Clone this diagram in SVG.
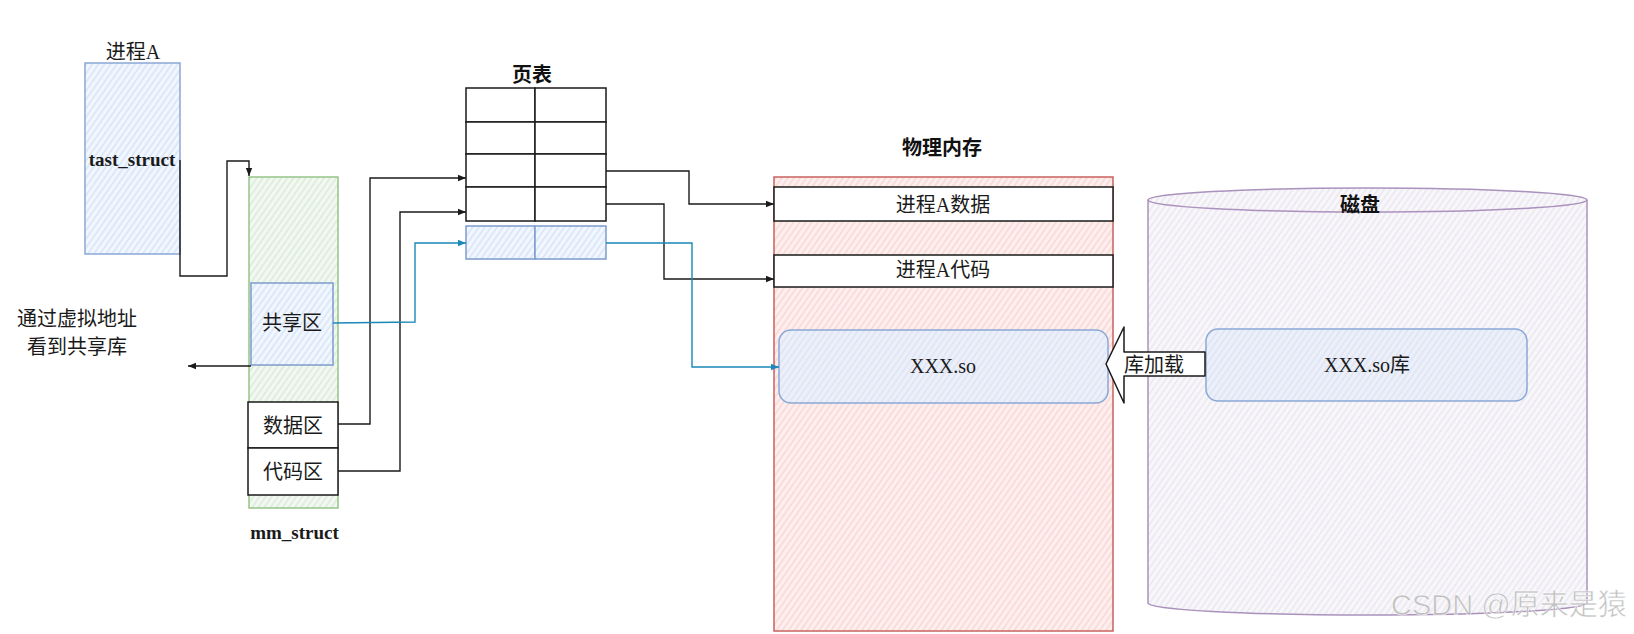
<svg xmlns="http://www.w3.org/2000/svg" width="1634" height="634" viewBox="0 0 1634 634">
<defs>
<style>
.t{font-family:"Liberation Serif","Noto Sans CJK SC",serif;font-size:20px;fill:#1a1a1a;text-anchor:middle}
.s{font-family:"Noto Sans CJK SC","Noto Sans",sans-serif;font-size:20px;fill:#1a1a1a;text-anchor:middle}
.b{font-family:"Noto Sans CJK SC","Noto Sans",sans-serif;font-size:20px;font-weight:bold;fill:#111;text-anchor:middle}
.sb{font-family:"Liberation Serif",serif;font-size:19px;font-weight:bold;fill:#1a1a1a;text-anchor:middle}
.box{fill:#fff;stroke:#1a1a1a;stroke-width:1.5}
.cn{fill:none;stroke:#1a1a1a;stroke-width:1.4}
.cb{fill:none;stroke:#1a88b8;stroke-width:1.4}
</style>
<pattern id="hB" width="5" height="5" patternUnits="userSpaceOnUse" patternTransform="rotate(35)"><rect width="5" height="5" fill="#f3f7fe"/><line x1="2.5" y1="0" x2="2.5" y2="5" stroke="#d6e4f8" stroke-width="1.6"/></pattern>
<pattern id="hG" width="5" height="5" patternUnits="userSpaceOnUse" patternTransform="rotate(35)"><rect width="5" height="5" fill="#f3f9f2"/><line x1="2.5" y1="0" x2="2.5" y2="5" stroke="#d9ebd7" stroke-width="1.6"/></pattern>
<pattern id="hR" width="5" height="5" patternUnits="userSpaceOnUse" patternTransform="rotate(35)"><rect width="5" height="5" fill="#fdf0ef"/><line x1="2.5" y1="0" x2="2.5" y2="5" stroke="#f9d6d4" stroke-width="1.6"/></pattern>
<pattern id="hP" width="5" height="5" patternUnits="userSpaceOnUse" patternTransform="rotate(35)"><rect width="5" height="5" fill="#f8f7fa"/><line x1="2.5" y1="0" x2="2.5" y2="5" stroke="#ebe6f0" stroke-width="1.5"/></pattern>
<pattern id="hX" width="5" height="5" patternUnits="userSpaceOnUse" patternTransform="rotate(35)"><rect width="5" height="5" fill="#eef0f9"/><line x1="2.5" y1="0" x2="2.5" y2="5" stroke="#dbe3f5" stroke-width="1.6"/></pattern>
<marker id="ak" viewBox="0 0 8 8" refX="8" refY="4" markerWidth="8" markerHeight="8" markerUnits="userSpaceOnUse" orient="auto"><path d="M0,0.8 L8,4 L0,7.2 Z" fill="#1a1a1a"/></marker>
<marker id="ab" viewBox="0 0 8 8" refX="8" refY="4" markerWidth="8" markerHeight="8" markerUnits="userSpaceOnUse" orient="auto"><path d="M0,0.8 L8,4 L0,7.2 Z" fill="#1a88b8"/></marker>
</defs>
<rect width="1634" height="634" fill="#fff"/>

<g id="physmem">
<text class="b" x="942" y="155">物理内存</text>
<rect x="774" y="177" width="339" height="454" fill="url(#hR)" stroke="#c8625e" stroke-width="1.5"/>
</g>
<g id="disk">
<path d="M1148,200 L1148,603 A219.5,12 0 0 0 1587,603 L1587,200" fill="url(#hP)" stroke="#ab92bd" stroke-width="1.5"/>
<ellipse cx="1367.5" cy="200" rx="219.5" ry="12" fill="url(#hP)" stroke="#ab92bd" stroke-width="1.5"/>
<text class="b" x="1360" y="212">磁盘</text>
</g>

<g id="processA">
<text class="t" x="133" y="59">进程A</text>
<rect x="85" y="63" width="95" height="191" fill="url(#hB)" stroke="#8aa8d6" stroke-width="1.5"/>
<text class="sb" x="132" y="166">tast_struct</text>
</g>

<g id="mm_struct">
<rect x="249" y="177" width="89" height="331" fill="url(#hG)" stroke="#97c48a" stroke-width="1.5"/>
<text class="sb" x="294.5" y="539">mm_struct</text>
</g>
<g id="share">
<rect x="251" y="283" width="82" height="82" fill="url(#hB)" stroke="#7d9ccc" stroke-width="1.5"/>
<text class="s" x="292" y="330">共享区</text>
</g>
<g id="data">
<rect class="box" x="248" y="402" width="90" height="46"/>
<text class="s" x="293" y="433">数据区</text>
</g>
<g id="code">
<rect class="box" x="248" y="448" width="90" height="47"/>
<text class="s" x="293" y="479">代码区</text>
</g>

<g id="note">
<text class="s" x="77" y="326" font-size="19">通过虚拟地址</text>
<text class="s" x="77" y="354" font-size="19">看到共享库</text>
</g>

<g id="pagetable">
<text class="b" x="532" y="82">页表</text>
<rect class="box" x="466" y="88" width="69" height="34"/>
<rect class="box" x="535" y="88" width="71" height="34"/>
<rect class="box" x="466" y="122" width="69" height="32"/>
<rect class="box" x="535" y="122" width="71" height="32"/>
<rect class="box" x="466" y="154" width="69" height="33"/>
<rect class="box" x="535" y="154" width="71" height="33"/>
<rect class="box" x="466" y="187" width="69" height="34"/>
<rect class="box" x="535" y="187" width="71" height="34"/>
<rect x="466" y="226" width="69" height="33" fill="url(#hB)" stroke="#7d9ccc" stroke-width="1.5"/>
<rect x="535" y="226" width="71" height="33" fill="url(#hB)" stroke="#7d9ccc" stroke-width="1.5"/>
</g>

<g id="memdata">
<rect class="box" x="774" y="187" width="339" height="34"/>
<text class="t" x="943" y="212">进程A数据</text>
</g>
<g id="memcode">
<rect class="box" x="774" y="255" width="339" height="32"/>
<text class="t" x="943" y="277">进程A代码</text>
</g>
<g id="memso">
<rect x="779" y="330" width="329" height="73" rx="12" fill="url(#hX)" stroke="#8aa8d6" stroke-width="1.5"/>
<text class="t" x="943" y="373" font-size="19">XXX.so</text>
</g>
<g id="diskso">
<rect x="1206" y="329" width="321" height="72" rx="12" fill="url(#hX)" stroke="#8aa8d6" stroke-width="1.5"/>
<text class="t" x="1367" y="372">XXX.so库</text>
</g>
<g id="load">
<path d="M1106,364 L1124,327 L1124,352 L1205,352 L1205,376 L1124,376 L1124,403 Z" fill="#fff" stroke="#1a1a1a" stroke-width="1.5" stroke-linejoin="round"/>
<text class="s" x="1154" y="372">库加载</text>
</g>

<g id="connectors">
<path class="cn" d="M180,160 L180,276 L227,276 L227,161 L249,161 L249,176" marker-end="url(#ak)"/>
<path class="cn" d="M251,366 L188,366" marker-end="url(#ak)"/>
<path class="cn" d="M338,424 L370,424 L370,178 L466,178" marker-end="url(#ak)"/>
<path class="cn" d="M338,471 L400,471 L400,212 L466,212" marker-end="url(#ak)"/>
<path class="cb" d="M333,323 L415,322 L415,243 L466,243" marker-end="url(#ab)"/>
<path class="cn" d="M606,171 L689,171 L689,204 L774,204" marker-end="url(#ak)"/>
<path class="cn" d="M606,204 L664,204 L664,279 L774,279" marker-end="url(#ak)"/>
<path class="cb" d="M606,243 L692,243 L692,367 L779,367" marker-end="url(#ab)"/>
</g>

<text x="1391" y="615" font-family="Liberation Sans,Noto Sans CJK SC,sans-serif" font-size="29" fill="#b0b0b0" fill-opacity="0.75" stroke="#fff" stroke-width="0.5">CSDN @原来是猿</text>
</svg>
